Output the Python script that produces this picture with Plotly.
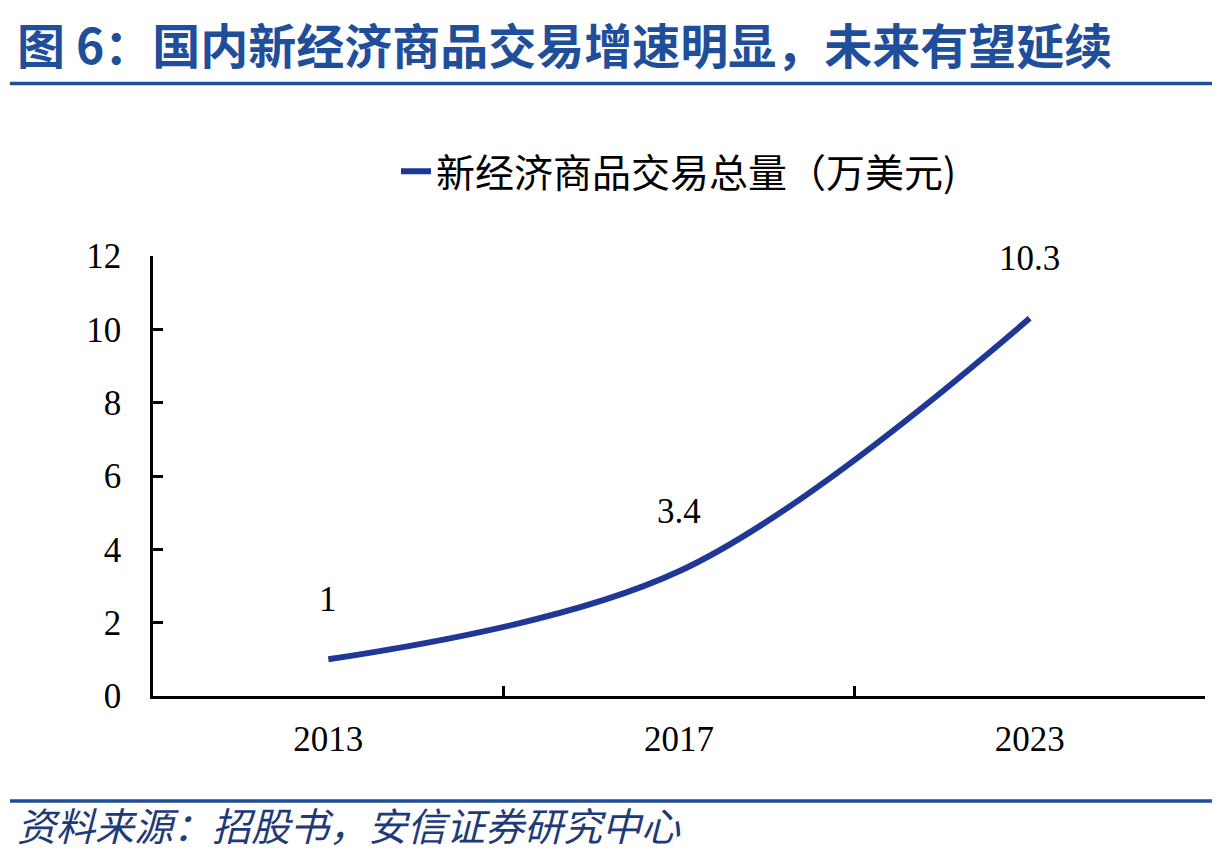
import plotly.graph_objects as go

years = ["2013", "2017", "2023"]
volume = [1, 3.4, 10.3]
labels = ["1", "3.4", "10.3"]
y_ticks = [0, 2, 4, 6, 8, 10, 12]

series_name = "新经济商品交易总量（万美元)"
title_text = "图 6：国内新经济商品交易增速明显，未来有望延续"
source_text = "资料来源：招股书，安信证券研究中心"

line_blue = "#1f3796"
head_blue = "#1f4e9a"
serif = "Liberation Serif"
cjk = "Noto Sans CJK SC"

fig = go.Figure()
fig.add_trace(go.Scatter(
    x=years, y=volume, mode="lines", name=series_name,
    line=dict(color=line_blue, width=6, shape="spline", smoothing=1.0),
))

# data labels above each point (category index, so "2013" isn't read as a position)
for i, (y, t) in enumerate(zip(volume, labels)):
    fig.add_annotation(x=i, y=y, text=t, showarrow=False, yshift=60,
                       font=dict(family=serif, size=35, color="black"))

# title and source
fig.add_annotation(xref="paper", yref="paper", x=-0.131, y=1.485, text="<b>" + title_text + "</b>",
                   showarrow=False, xanchor="left", yanchor="middle",
                   font=dict(family=cjk, size=48, color=head_blue))
fig.add_annotation(xref="paper", yref="paper", x=-0.131, y=-0.29, text="<i>" + source_text + "</i>",
                   showarrow=False, xanchor="left", yanchor="middle",
                   font=dict(family=cjk, size=39, color="#1f3a78"))

# header / footer rules
fig.add_shape(type="line", xref="paper", yref="paper", x0=-0.136, x1=1.02, y0=1.392, y1=1.392,
              line=dict(color=head_blue, width=3.5))
fig.add_shape(type="line", xref="paper", yref="paper", x0=-0.136, x1=1.02, y0=-0.2386, y1=-0.2386,
              line=dict(color=head_blue, width=3.5))

# page body has an 8px margin, so the figure is sized/margined to compensate
fig.update_layout(
    width=1212, height=850,
    margin=dict(l=145, r=15, t=248, b=162),
    paper_bgcolor="white", plot_bgcolor="white",
    showlegend=True,
    legend=dict(orientation="h", x=0.50, xanchor="center", y=1.192, yanchor="middle",
                font=dict(family=cjk, size=39, color="black"), bgcolor="rgba(0,0,0,0)"),
    xaxis=dict(type="category", range=[-0.5, 2.5], showline=True, linecolor="black", linewidth=2.5,
               ticks="inside", tickson="boundaries", ticklen=10, tickwidth=2.5, tickcolor="black",
               showgrid=False, tickfont=dict(family=serif, size=35, color="black"), ticklabelstandoff=10),
    yaxis=dict(range=[0, 12], tickvals=y_ticks, showline=True, linecolor="black", linewidth=2.5,
               ticks="inside", ticklen=10, tickwidth=2.5, tickcolor="black",
               showgrid=False, zeroline=False, tickfont=dict(family=serif, size=35, color="black"),
               ticklabelstandoff=22),
)

fig.write_html("out.html")
